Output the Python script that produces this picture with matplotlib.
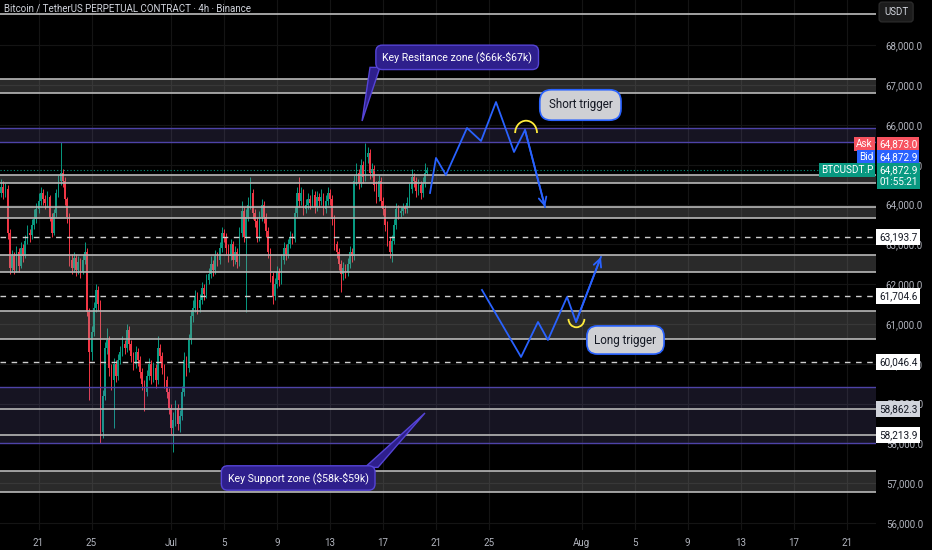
import matplotlib
matplotlib.use("Agg")
import matplotlib.pyplot as plt
from matplotlib.patches import Arc, Polygon
import pandas as pd

# 4h candles, closes (open = previous close)
first_open = 64300
candle_start = "2024-06-18 04:00"
closes = [
    64450, 64300, 64400, 63300, 62400, 62700, 62350, 62800, 62450, 62900,
    62700, 63100, 63300, 63250, 63500, 63650, 63900, 64100, 64300, 64150,
    64050, 64200, 63700, 63300, 63800, 64300, 64600, 64800, 64600, 64150,
    63700, 62600, 62400, 62650, 62350, 62550, 62300, 62600, 62800, 61300,
    60300, 60800, 61400, 61850, 61500, 58300, 59200, 60400, 60600, 59900,
    59600, 60000, 59700, 60100, 60300, 60500, 60400, 60850, 60500, 60200,
    60000, 60300, 60100, 59800, 59500, 59300, 59700, 60000, 59700, 59900,
    59600, 60400, 60200, 59900, 59600, 59300, 58900, 58400, 58600, 58900,
    58500, 58700, 59300, 60100, 59900, 60600, 61200, 61400, 61700, 61400,
    61600, 61900, 61750, 62100, 62250, 62500, 62350, 62700, 62600, 62900,
    63300, 63200, 62900, 62700, 63000, 62600, 62800, 62550, 63300, 63850,
    63200, 63700, 64000, 64300, 63800, 63600, 63200, 63700, 64000, 63700,
    63350, 62800, 62200, 61700, 62000, 62300, 62100, 62600, 62900, 62750,
    63000, 63200, 63150, 63800, 64300, 64100, 64300, 63900, 64000, 64150,
    64050, 64250, 63950, 64200, 64100, 64200, 63900, 64100, 64300, 64150,
    63650, 63000, 62800, 62500, 62250, 62400, 62300, 62500, 62800, 62700,
    64600, 64800, 64550, 65000, 64700, 65200, 65300, 64800, 64900, 64500,
    64200, 64600, 64100, 63900, 63500, 63100, 62800, 63100, 63500, 63900,
    63800, 63850, 63950, 63900, 64050, 64400, 64700, 64600, 64350, 64500,
    64300, 64550, 64800, 64873,
]
highs = [
    64650, 64600, 64550, 64500, 63400, 62850, 62800, 62950, 62900, 63050,
    63000, 63250, 63500, 63400, 63650, 63900, 64050, 64300, 64450, 64400,
    64250, 64350, 64250, 63800, 63900, 64400, 64750, 65580, 64900, 64700,
    64200, 63800, 62750, 62800, 62750, 62700, 62650, 62750, 63050, 62900,
    61400, 60950, 61550, 62000, 61950, 61600, 59350, 60550, 60900, 60700,
    60000, 60150, 60100, 60250, 60450, 60700, 60600, 61000, 60950, 60600,
    60300, 60450, 60400, 60200, 59900, 59600, 59850, 60150, 60100, 60050,
    60000, 60700, 60500, 60300, 60000, 59700, 59400, 59000, 58800, 59100,
    59000, 58850, 59450, 60300, 60200, 60750, 61350, 61600, 61850, 61800,
    61750, 62050, 62000, 62250, 62400, 62700, 62600, 62850, 62800, 63050,
    63450, 63400, 63300, 63000, 63150, 63100, 62950, 62900, 63450, 64100,
    63950, 63900, 64200, 64700, 64400, 63900, 63700, 63850, 64150, 64100,
    63800, 63450, 62900, 62300, 62150, 62450, 62400, 62750, 63050, 63000,
    63150, 63350, 63300, 63950, 64450, 64700, 64450, 64400, 64150, 64300,
    64250, 64400, 64350, 64350, 64300, 64400, 64300, 64250, 64450, 64400,
    64250, 63750, 63100, 62900, 62600, 62550, 62500, 62650, 62950, 62900,
    64750, 65050, 64900, 65150, 65100, 65560, 65450, 65400, 65050, 65000,
    64600, 64750, 64700, 64200, 64000, 63600, 63200, 63250, 63650, 64050,
    64000, 63950, 64050, 64000, 64200, 64550, 64900, 64800, 64700, 64650,
    64600, 64700, 65050, 64950,
]
lows = [
    64200, 64150, 64200, 63150, 62250, 62300, 62250, 62300, 62300, 62400,
    62550, 62650, 63000, 63050, 63150, 63400, 63550, 63800, 64000, 64000,
    63900, 63950, 63600, 63200, 63250, 63700, 64200, 64500, 64450, 64000,
    63550, 62450, 62250, 62300, 62200, 62250, 62150, 62250, 62500, 61200,
    59100, 60100, 60700, 61300, 61350, 58020, 58150, 59100, 60250, 59700,
    59350, 58400, 59550, 59600, 60000, 60200, 60250, 60300, 60350, 60050,
    59850, 59900, 59950, 59650, 59350, 58820, 59200, 59600, 59500, 59550,
    59400, 59500, 60050, 59750, 59400, 59150, 58750, 58250, 57780, 58450,
    58350, 58300, 58600, 59200, 59700, 59800, 60500, 61050, 61300, 61250,
    61300, 61500, 61600, 61650, 62000, 62150, 62200, 62250, 62450, 62500,
    62800, 63050, 62750, 62550, 62600, 62450, 62500, 62400, 62450, 63200,
    63050, 61300, 63600, 63900, 63650, 63450, 63050, 63100, 63600, 63550,
    63200, 62650, 62050, 61500, 61600, 61900, 61950, 62000, 62500, 62600,
    62650, 62900, 63000, 63050, 63700, 63950, 64000, 63750, 63800, 63900,
    63900, 63950, 63800, 63850, 63950, 64000, 63750, 63800, 64000, 64000,
    63500, 62850, 62650, 62350, 61800, 62100, 62150, 62200, 62400, 62550,
    62600, 64500, 64400, 64450, 64550, 64600, 65050, 64650, 64700, 64350,
    64050, 64100, 63950, 63750, 63350, 62950, 62650, 62550, 63000, 63400,
    63650, 63700, 63750, 63800, 63800, 63950, 64300, 64450, 64200, 64250,
    64150, 64200, 64450, 64750,
]

# drawings
gray_zones = [(66807, 67158), (64545, 64746), (63666, 63942),
              (62309, 62736), (60626, 61329), (56781, 57309)]
purple_zones = [(65575, 65927), (58013, 59420)]
solid_levels = [58862.3, 58213.9]
dashed_levels = [63193.7, 61704.6, 60046.4]
top_line = 68790
last_price = 64872.9
ask_price = 64873.0
bid_price = 64872.9
countdown = "01:55:21"

# scenario paths: (days from Jul 1, price)
short_days = [19.55, 20.0, 20.75, 22.34, 23.4, 24.53, 25.89, 26.72, 28.23]
short_prices = [64294, 65174, 64747, 65927, 65600, 66580, 65324, 65877, 63942]
long_days = [23.47, 26.42, 27.7, 28.45, 29.89, 30.57, 32.45]
long_prices = [61857, 60173, 61053, 60600, 61681, 61053, 62686]

price_ticks = list(range(56000, 69000, 1000))
date_ticks = [-10, -6, 0, 4, 8, 12, 16, 20, 24, 31, 35, 39, 43, 47, 51]
date_labels = ["21", "25", "Jul", "5", "9", "13", "17", "21", "25",
               "Aug", "5", "9", "13", "17", "21"]

UP = "#089981"
DOWN = "#f23645"
BLUE = "#2962ff"
TXT = "#b2b5be"

plt.rcParams["font.family"] = ["Roboto", "DejaVu Sans"]

fig = plt.figure(figsize=(9.32, 5.5), dpi=100, facecolor="black")
ax = fig.add_axes([0, 20 / 550, 876 / 932, 530 / 550])
ax.set_facecolor("black")
ax.set_xlim(-12.906, 53.21)
ax.set_ylim(55826, 69143)

for t in date_ticks:
    ax.axvline(t, color="#141414", lw=0.8, zorder=0)
for p in price_ticks:
    ax.axhline(p, color="#141414", lw=0.8, zorder=0)

# candles
times = pd.date_range(candle_start, periods=len(closes), freq="4h")
xs = (times - pd.Timestamp("2024-07-01")) / pd.Timedelta(days=1)
opens = [first_open] + closes[:-1]
cols = [UP if c >= o else DOWN for o, c in zip(opens, closes)]
ax.vlines(xs, lows, highs, colors=cols, lw=0.7, zorder=2)
ax.bar(xs, [c - o if c != o else 10 for o, c in zip(opens, closes)],
       bottom=opens, width=0.12, color=cols, zorder=3)

# zones
for lo, hi in gray_zones:
    ax.axhspan(lo, hi, facecolor=(0.6, 0.6, 0.6, 0.28), edgecolor="none", zorder=4)
    ax.axhline(lo, color="#b8b8b8", lw=1.2, zorder=5)
    ax.axhline(hi, color="#b8b8b8", lw=1.2, zorder=5)
for lo, hi in purple_zones:
    ax.axhspan(lo, hi, facecolor=(0.55, 0.5, 0.85, 0.16), edgecolor="none", zorder=4)
    ax.axhline(lo, color="#4e43a8", lw=1.0, zorder=5)
    ax.axhline(hi, color="#4e43a8", lw=1.0, zorder=5)
for lv in solid_levels:
    ax.axhline(lv, color="#b8b8b8", lw=1.2, zorder=5)
for lv in dashed_levels:
    ax.axhline(lv, color="#cfcfcf", lw=1.0, ls=(0, (4, 4)), zorder=5)
ax.axhline(last_price, color=UP, lw=0.8, ls=(0, (1, 2)), zorder=5)
ax.axhline(top_line, color="#bdbdbd", lw=1.2, zorder=5)

# scenarios
ax.plot(short_days, short_prices, color=BLUE, lw=1.3, zorder=6)
ax.annotate("", xy=(short_days[-1], short_prices[-1]),
            xytext=(short_days[-2], short_prices[-2]),
            arrowprops=dict(arrowstyle="->", color=BLUE, lw=1.3,
                            mutation_scale=14, shrinkA=0, shrinkB=0), zorder=6)
ax.plot(long_days, long_prices, color=BLUE, lw=1.3, zorder=6)
ax.annotate("", xy=(long_days[-1], long_prices[-1]),
            xytext=(long_days[-2], long_prices[-2]),
            arrowprops=dict(arrowstyle="->", color=BLUE, lw=1.3,
                            mutation_scale=14, shrinkA=0, shrinkB=0), zorder=6)
ax.add_patch(Arc((26.8, 65800), 1.65, 620, theta1=10, theta2=170,
                 color="#ffeb3b", lw=1.3, zorder=7))
ax.add_patch(Arc((30.6, 61130), 1.2, 420, theta1=190, theta2=350,
                 color="#ffeb3b", lw=1.3, zorder=7))

# callouts
purple_fill = "#2e1f8c"
purple_edge = "#5544d6"
ax.add_patch(Polygon([(15.02, 67450), (15.77, 67450), (14.42, 66103)],
                     closed=True, facecolor=purple_fill, edgecolor=purple_edge,
                     lw=1.0, zorder=8))
ax.text(21.6, 67702, "Key Resitance zone (\\$66k-\\$67k)", color="white",
        fontsize=7.6, ha="center", va="center", zorder=9,
        bbox=dict(boxstyle="round,pad=0.6,rounding_size=0.6",
                  fc=purple_fill, ec=purple_edge, lw=1.0))
ax.add_patch(Polygon([(14.64, 57400), (15.62, 57400), (19.17, 58766)],
                     closed=True, facecolor=purple_fill, edgecolor=purple_edge,
                     lw=1.0, zorder=8))
ax.text(9.6, 57133, "Key Support zone (\\$58k-\\$59k)", color="white",
        fontsize=7.6, ha="center", va="center", zorder=9,
        bbox=dict(boxstyle="round,pad=0.6,rounding_size=0.6",
                  fc=purple_fill, ec=purple_edge, lw=1.0))
ax.text(30.9, 66505, "Short trigger", color="#131722", fontsize=8.4,
        ha="center", va="center", zorder=9,
        bbox=dict(boxstyle="round,pad=0.75,rounding_size=1.0",
                  fc="#cfd0d4", ec=BLUE, lw=1.2))
ax.text(34.3, 60600, "Long trigger", color="#131722", fontsize=8.4,
        ha="center", va="center", zorder=9,
        bbox=dict(boxstyle="round,pad=0.65,rounding_size=0.9",
                  fc="#cfd0d4", ec=BLUE, lw=1.2))

# axes
for s in ax.spines.values():
    s.set_visible(False)
ax.yaxis.tick_right()
ax.set_yticks(price_ticks)
ax.set_yticklabels([f"{p:,.1f}" for p in price_ticks])
ax.set_xticks(date_ticks)
ax.set_xticklabels(date_labels)
ax.tick_params(axis="y", length=0, pad=7, labelsize=7, labelcolor=TXT)
ax.tick_params(axis="x", length=0, pad=6, labelsize=7, labelcolor=TXT)


# price tags on the scale
def tag(price, label, fc, tc="white", dy=0, pad=0.3):
    ax.annotate(label, xy=(1, price), xycoords=("axes fraction", "data"),
                xytext=(3, dy), textcoords="offset pixels", ha="left",
                va="center", fontsize=7.2, color=tc, zorder=10,
                annotation_clip=False,
                bbox=dict(boxstyle=f"square,pad={pad}", fc=fc, ec="none"))


for lv in dashed_levels + [solid_levels[1]]:
    tag(lv, f"{lv:,.1f}", "white", "#131722")
tag(solid_levels[0], f"{solid_levels[0]:,.1f}", "#d1d4dc", "#131722")
tag(ask_price, f"{ask_price:,.1f}", "#f7525f", dy=26, pad=0.2)
tag(bid_price, f"{bid_price:,.1f}", BLUE, dy=13, pad=0.2)
tag(last_price, f"{last_price:,.1f}\n{countdown}", UP, dy=-6, pad=0.2)


def side_tag(price, label, fc, dy):
    ax.annotate(label, xy=(1, price), xycoords=("axes fraction", "data"),
                xytext=(-3, dy), textcoords="offset pixels", ha="right",
                va="center", fontsize=7.2, color="white", zorder=10,
                annotation_clip=False,
                bbox=dict(boxstyle="square,pad=0.2", fc=fc, ec="none"))


side_tag(ask_price, "Ask", "#f7525f", 26)
side_tag(bid_price, "Bid", BLUE, 13)
side_tag(last_price, "BTCUSDT.P", UP, 0)

fig.text(4 / 932, 1 - 9 / 550, "Bitcoin / TetherUS PERPETUAL CONTRACT · 4h · Binance",
         color="#d1d4dc", fontsize=7, ha="left", va="center")
fig.text(884 / 932, 1 - 12 / 550, "USDT", color="#d1d4dc", fontsize=7,
         ha="left", va="center",
         bbox=dict(boxstyle="round,pad=0.5,rounding_size=0.3", fc="#1c1c1c",
                   ec="#2a2a2a"))

fig.savefig("out.png", dpi=100, facecolor="black")
